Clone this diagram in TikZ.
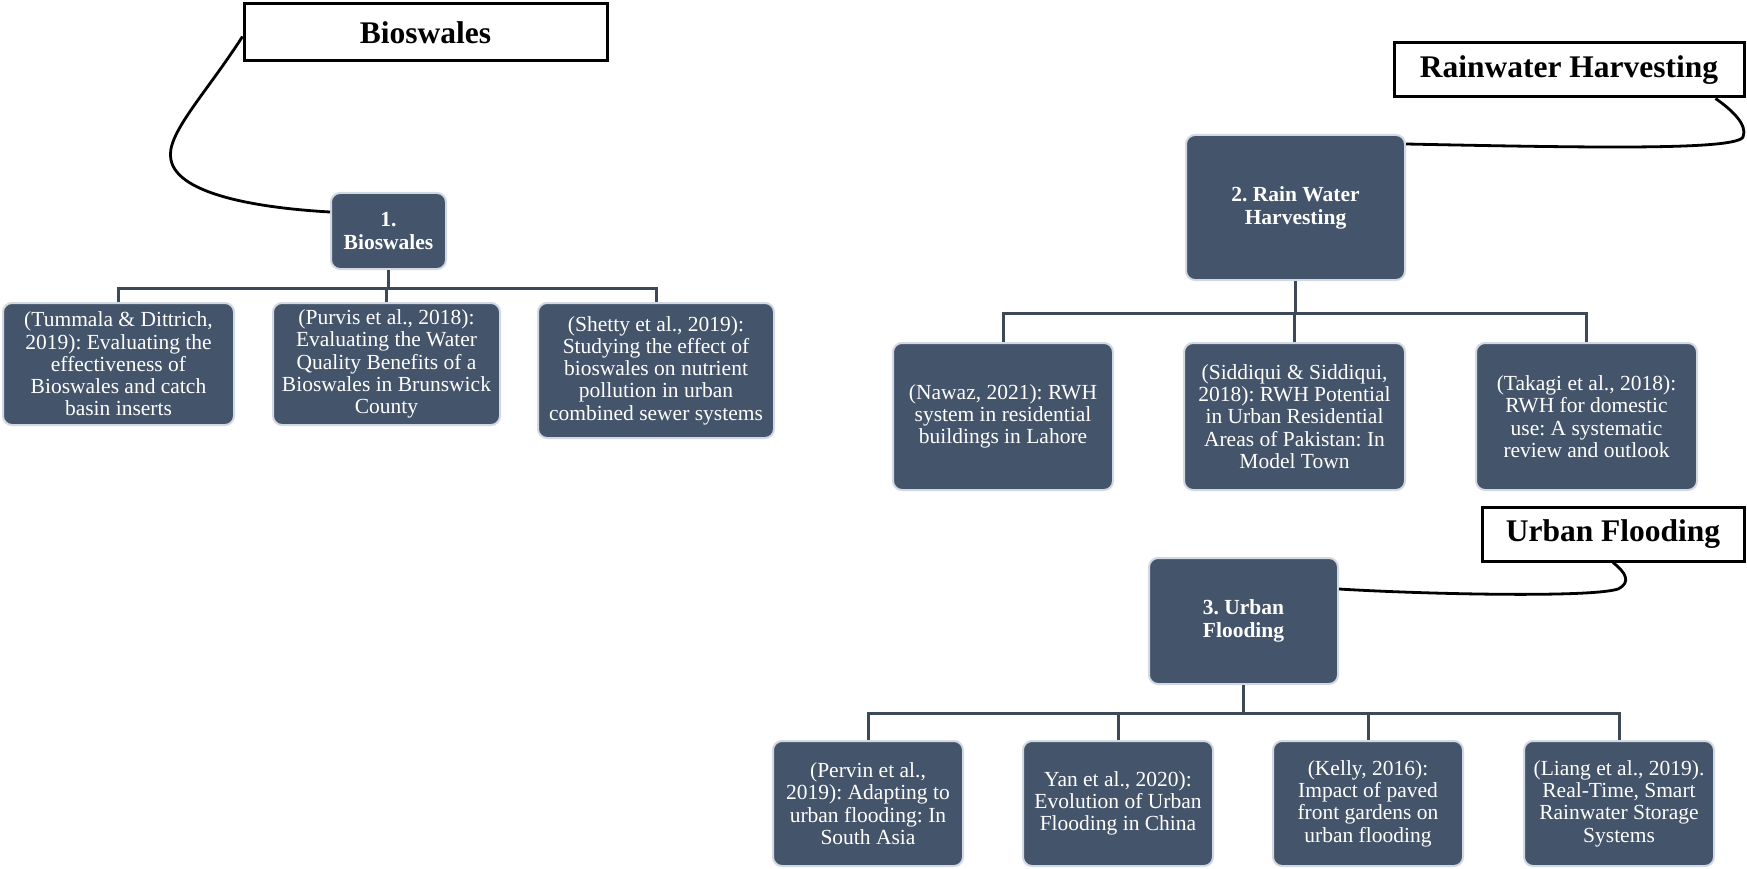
\documentclass[tikz,border=0pt]{standalone}
\usepackage{fontspec}
\setmainfont{Liberation Serif}
\usetikzlibrary{calc}
\definecolor{boxfill}{HTML}{44546A}
\definecolor{boxedge}{HTML}{D3D9E2}
\definecolor{linkc}{HTML}{3D4859}
\frenchspacing
\begin{document}
\begin{tikzpicture}[x=1pt,y=-1pt,
  box/.style={draw=boxedge, line width=2pt, fill=boxfill, rounded corners=9pt,
    text=white, align=center, inner sep=0pt,
    font=\fontsize{21.5}{22.3}\selectfont\frenchspacing},
  head/.style={box, font=\fontsize{21.5}{23}\selectfont\bfseries},
  title/.style={draw=black, line width=3pt, fill=white, inner sep=0pt,
    font=\fontsize{31.5}{34}\selectfont\bfseries},
  link/.style={draw=linkc, line width=3pt},
  curve/.style={draw=black, line width=2.8pt}
]
\path[fill=white,use as bounding box] (0,0) rectangle (1747,869);

% ---------- Group 1 : Bioswales ----------
\node[title, minimum width=363pt, minimum height=57pt] (t1) at (425.5,32.5) {Bioswales};
\node[head, minimum width=115pt, minimum height=76pt] (b1) at (388.5,231) {1.\\Bioswales};
\node[box, minimum width=231pt, minimum height=122pt] (c11) at (118.5,364)
  {(Tummala \& Dittrich,\\2019): Evaluating the\\effectiveness of\\Bioswales and catch\\basin inserts};
\node[box, minimum width=227pt, minimum height=122pt] (c12) at (386.5,364)
  {(Purvis et al., 2018):\\Evaluating the Water\\Quality Benefits of a\\Bioswales in Brunswick\\County};
\node[box, minimum width=236pt, minimum height=135pt] (c13) at (656,370.5)
  {(Shetty et al., 2019):\\Studying the effect of\\bioswales on nutrient\\pollution in urban\\combined sewer systems};
\draw[link] (b1.south) -- ++(0,18) coordinate (j1);
\draw[link] (c11.north) |- (j1) -| (c13.north);
\draw[link] (c12.north) -- (c12.north |- j1);
\draw[curve] ($(t1.west)+(0,4)$) .. controls (205,95) and (165,135) .. (171,160)
  .. controls (178,195) and (260,208) .. ($(b1.west)+(0,-19)$);

% ---------- Group 2 : Rainwater Harvesting ----------
\node[title, minimum width=350pt, minimum height=54pt] (t2) at (1569,70) {Rainwater Harvesting};
\node[head, minimum width=219pt, minimum height=145pt] (b2) at (1295.5,207.5) {2. Rain Water\\Harvesting};
\node[box, minimum width=220pt, minimum height=147pt] (c21) at (1003,416.5)
  {(Nawaz, 2021): RWH\\system in residential\\buildings in Lahore};
\node[box, minimum width=221pt, minimum height=147pt] (c22) at (1294.5,416.5)
  {(Siddiqui \& Siddiqui,\\2018): RWH Potential\\in Urban Residential\\Areas of Pakistan: In\\Model Town};
\node[box, minimum width=221pt, minimum height=147pt] (c23) at (1586.5,416.5)
  {(Takagi et al., 2018):\\RWH for domestic\\use: A systematic\\review and outlook};
\draw[link] (b2.south) -- ++(0,32) coordinate (j2);
\draw[link] (c21.north) |- (j2) -| (c23.north);
\draw[link] (c22.north) -- (c22.north |- j2);
\draw[curve] ($(t2.south east)+(-30,0)$) .. controls (1732,110) and (1748,125) .. (1743,137)
  .. controls (1736,150) and (1600,148) .. ($(b2.north east)+(0,10)$);

% ---------- Group 3 : Urban Flooding ----------
\node[title, minimum width=262pt, minimum height=54pt] (t3) at (1613,534) {Urban Flooding};
\node[head, minimum width=189pt, minimum height=126pt] (b3) at (1243.5,621) {3. Urban\\Flooding};
\node[box, minimum width=190pt, minimum height=125pt] (c31) at (868,803.5)
  {(Pervin et al.,\\2019): Adapting to\\urban flooding: In\\South Asia};
\node[box, minimum width=190pt, minimum height=125pt] (c32) at (1118,803.5)
  {Yan et al., 2020):\\Evolution of Urban\\Flooding in China};
\node[box, minimum width=190pt, minimum height=125pt] (c33) at (1368,803.5)
  {(Kelly, 2016):\\Impact of paved\\front gardens on\\urban flooding};
\node[box, minimum width=190pt, minimum height=125pt] (c34) at (1619,803.5)
  {(Liang et al., 2019).\\Real-Time, Smart\\Rainwater Storage\\Systems};
\draw[link] (b3.south) -- ++(0,28) coordinate (j3);
\draw[link] (c31.north) |- (j3) -| (c34.north);
\draw[link] (c32.north) -- (c32.north |- j3);
\draw[link] (c33.north) -- (c33.north |- j3);
\draw[curve] (t3.south) .. controls (1625,572) and (1632,582) .. (1618,589)
  .. controls (1590,598) and (1420,594) .. ($(b3.east)+(0,-32)$);
\end{tikzpicture}
\end{document}
